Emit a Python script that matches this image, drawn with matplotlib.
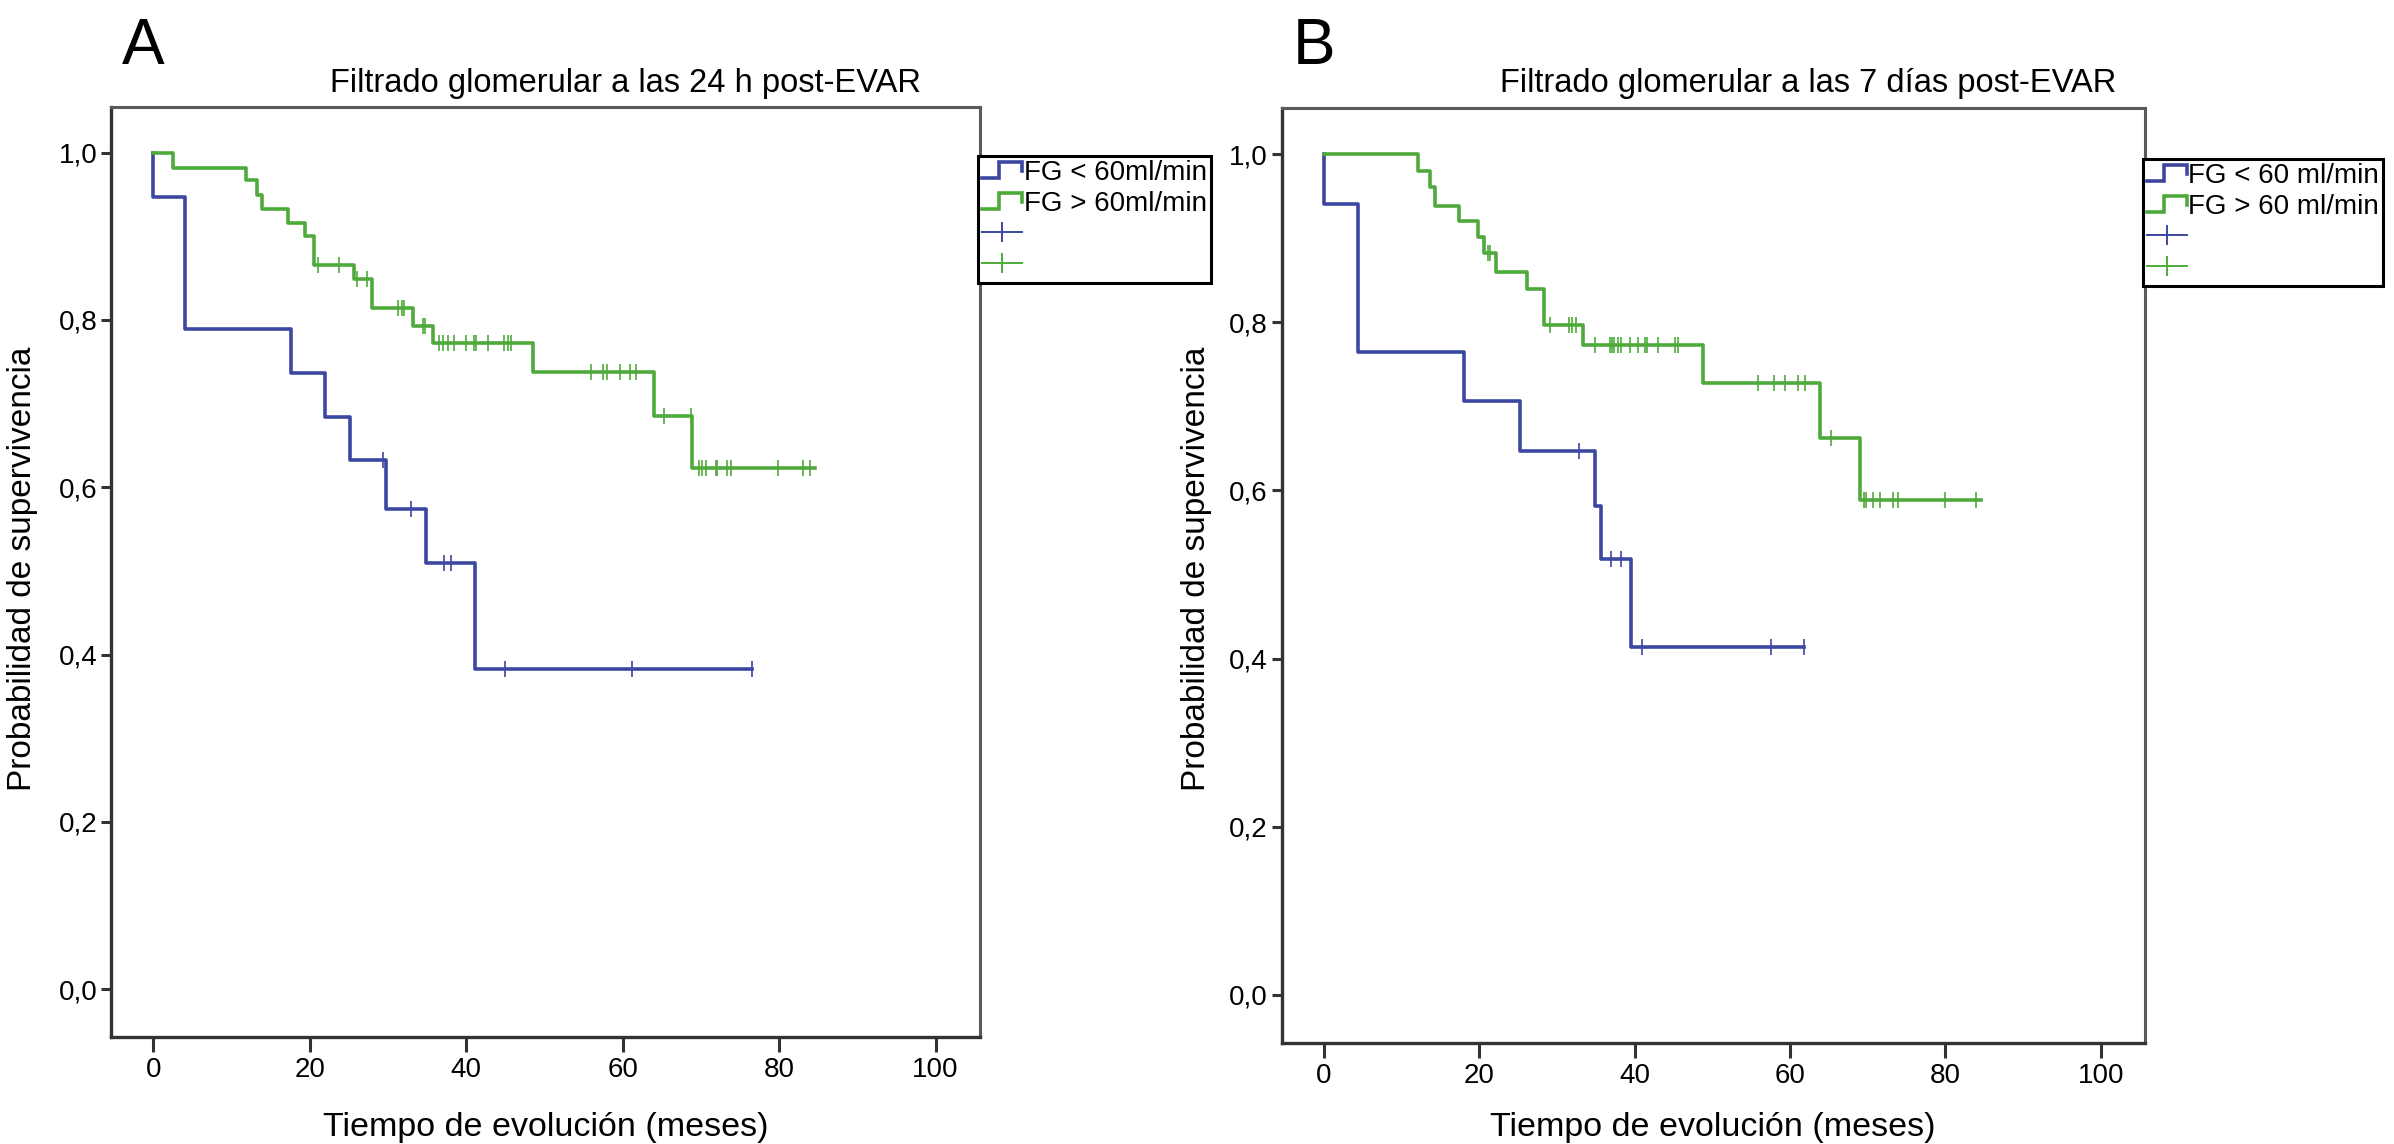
import numpy as np
import matplotlib.pyplot as plt
from matplotlib.lines import Line2D
from matplotlib.legend_handler import HandlerBase

plt.rcParams['font.family'] = ['Liberation Sans', 'DejaVu Sans']

# --- data (months, survival) ---
# panel A: FG at 24 h post-EVAR
a_low_t = [0.0, 0.0, 4.1, 17.6, 21.9, 25.1, 29.7, 34.9, 41.1]
a_low_s = [1.0, 0.947, 0.789, 0.737, 0.684, 0.632, 0.574, 0.510, 0.383]
a_low_end = 76.5
a_low_cens = [29.4, 32.9, 37.1, 38.1, 44.9, 61.2, 76.5]

a_high_t = [0.0, 2.5, 11.8, 13.3, 13.9, 17.2, 19.4, 20.5, 25.7, 28.0, 33.2,
            35.7, 48.5, 64.0, 68.9]
a_high_s = [1.0, 0.982, 0.967, 0.949, 0.933, 0.916, 0.900, 0.866, 0.849,
            0.814, 0.793, 0.773, 0.738, 0.685, 0.623]
a_high_end = 84.6
a_high_cens = [21.1, 23.8, 26.1, 27.3, 31.3, 31.8, 32.1, 34.5, 34.7, 36.5,
               37.0, 37.7, 38.4, 40.0, 41.0, 41.2, 42.8, 44.8, 45.3, 45.7,
               56.0, 57.5, 58.0, 59.6, 61.0, 61.7, 65.3, 68.7, 69.7, 70.2,
               70.7, 71.9, 72.0, 73.4, 73.9, 79.9, 83.1, 84.0]

# panel B: FG at 7 days post-EVAR
b_low_t = [0.0, 0.0, 4.4, 18.0, 25.2, 34.9, 35.7, 39.5]
b_low_s = [1.0, 0.941, 0.765, 0.706, 0.647, 0.582, 0.518, 0.414]
b_low_end = 61.8
b_low_cens = [32.8, 37.0, 38.2, 41.0, 57.6, 61.8]

b_high_t = [0.0, 12.1, 13.7, 14.3, 17.4, 19.9, 20.6, 22.2, 26.1, 28.3, 33.4,
            48.8, 63.9, 69.0]
b_high_s = [1.0, 0.980, 0.961, 0.939, 0.921, 0.901, 0.882, 0.860, 0.840,
            0.797, 0.773, 0.728, 0.662, 0.589]
b_high_end = 84.6
b_high_cens = [21.1, 21.4, 29.1, 31.6, 32.0, 32.5, 34.9, 36.9, 37.1, 37.4,
               37.9, 38.3, 39.4, 40.4, 41.3, 41.6, 43.0, 45.2, 45.6, 55.9,
               58.0, 59.4, 61.0, 61.9, 65.3, 69.5, 69.8, 70.7, 71.6, 73.3,
               73.9, 79.9, 84.0]

titles = ["Filtrado glomerular a las 24 h post-EVAR",
          "Filtrado glomerular a las 7 días post-EVAR"]
labels_a = ["FG < 60ml/min", "FG > 60ml/min"]
labels_b = ["FG < 60 ml/min", "FG > 60 ml/min"]
y_ticks = [0.0, 0.2, 0.4, 0.6, 0.8, 1.0]
x_ticks = [0, 20, 40, 60, 80, 100]

BLUE = "#3b47a0"
GREEN = "#4eab3b"


class StepHandler(HandlerBase):
    # little step glyph like the SPSS legend
    def create_artists(self, legend, orig_handle, xdescent, ydescent,
                       width, height, fontsize, trans):
        x0, y0 = -xdescent, -ydescent
        xm = x0 + 0.42 * width
        xs = [x0, xm, xm, x0 + width, x0 + width]
        ys = [y0 + 0.05 * height, y0 + 0.05 * height, y0 + 0.95 * height,
              y0 + 0.95 * height, y0 + 0.45 * height]
        ln = Line2D(xs, ys, color=orig_handle.get_color(),
                    lw=orig_handle.get_linewidth(), transform=trans,
                    solid_joinstyle="miter")
        return [ln]


def km(ax, t, s, end, cens, color):
    ax.step(t + [end], s + [s[-1]], where="post", color=color, lw=2.6)
    idx = np.searchsorted(t, cens, side="right") - 1
    ax.plot(cens, np.array(s)[idx], ls="none", marker="|", ms=11,
            mew=1.2, color=color)


def style(ax):
    ax.set_xlim(-5.4, 105.7)
    ax.set_ylim(-0.057, 1.055)
    ax.set_xticks(x_ticks)
    ax.set_yticks(y_ticks)
    ax.set_yticklabels([f"{v:.1f}".replace(".", ",") for v in y_ticks])
    ax.tick_params(direction="out", width=2.2, color="#333333",
                   labelsize=20)
    ax.tick_params(axis="x", length=11, pad=3.5)
    ax.tick_params(axis="y", length=7, pad=3)
    for side in ["left", "bottom"]:
        ax.spines[side].set_color("#333333")
        ax.spines[side].set_linewidth(2.4)
    for side in ["top", "right"]:
        ax.spines[side].set_color("#5a5a5a")
        ax.spines[side].set_linewidth(2.2)


def add_legend(fig, ax, labels, x, y):
    h1 = Line2D([], [], color=BLUE, lw=2.6)
    h2 = Line2D([], [], color=GREEN, lw=2.6)
    c1 = Line2D([], [], color=BLUE, lw=1.4, marker="|", ms=15, mew=1.4)
    c2 = Line2D([], [], color=GREEN, lw=1.4, marker="|", ms=15, mew=1.4)
    leg = ax.legend([h1, h2, c1, c2], labels + [" ", " "],
                    handler_map={h1: StepHandler(), h2: StepHandler()},
                    loc="upper left", bbox_to_anchor=(x, y),
                    bbox_transform=fig.transFigure, fontsize=20,
                    fancybox=False, edgecolor="black", framealpha=1,
                    borderpad=0.15, borderaxespad=0, handlelength=1.45,
                    handleheight=0.6, handletextpad=0.05, labelspacing=0.17,
                    numpoints=1)
    leg.get_frame().set_linewidth(2.2)


fig = plt.figure(figsize=(23.94, 11.44), dpi=100)
ax_a = fig.add_axes([0.0464, 0.0938, 0.3630, 0.8129])
ax_b = fig.add_axes([0.5354, 0.0885, 0.3606, 0.8171])

km(ax_a, a_low_t, a_low_s, a_low_end, a_low_cens, BLUE)
km(ax_a, a_high_t, a_high_s, a_high_end, a_high_cens, GREEN)
km(ax_b, b_low_t, b_low_s, b_low_end, b_low_cens, BLUE)
km(ax_b, b_high_t, b_high_s, b_high_end, b_high_cens, GREEN)

for ax in (ax_a, ax_b):
    style(ax)

add_legend(fig, ax_a, labels_a, 0.4085, 0.8636)
add_legend(fig, ax_b, labels_b, 0.8950, 0.8610)

# panel letters, titles and axis labels
fig.text(0.051, 0.944, "A", fontsize=46, va="baseline")
fig.text(0.540, 0.944, "B", fontsize=46, va="baseline")
fig.text(0.2613, 0.9196, titles[0], fontsize=23.5, ha="center", va="baseline")
fig.text(0.7553, 0.9196, titles[1], fontsize=23.5, ha="center", va="baseline")
for xc in (0.2278, 0.7155):
    fig.text(xc, 0.007, "Tiempo de evolución (meses)", fontsize=24.5,
             ha="center", va="baseline")
for xc in (0.0096, 0.4996):
    fig.text(xc, 0.503, "Probabilidad de supervivencia", fontsize=24,
             rotation=90, ha="center", va="center")

fig.savefig("out.png", dpi=100)
